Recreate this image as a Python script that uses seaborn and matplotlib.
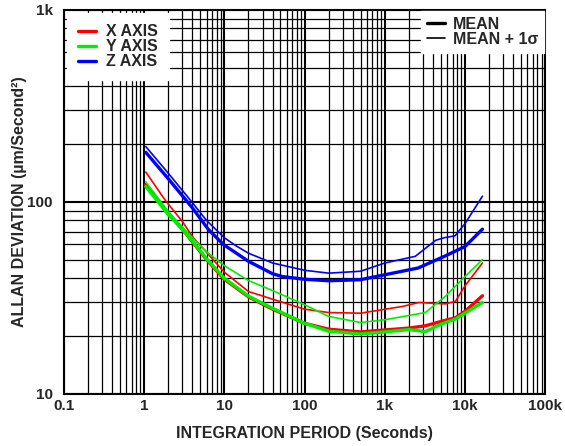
import matplotlib
matplotlib.use("Agg")
import numpy as np
import pandas as pd
import matplotlib.pyplot as plt
import seaborn as sns
from matplotlib.lines import Line2D
from matplotlib.ticker import FixedLocator, LogLocator, NullFormatter

# integration period (s) and Allan deviation (um/s^2)
x_sig_z = [1.05, 2, 4, 6, 10, 14, 20, 40, 100, 200, 500, 1000, 2400, 4300, 5500, 7500, 10000, 16500]
z_sig = [194, 141, 99, 80, 65, 59, 54, 48, 44, 42.5, 43.5, 48, 52, 63, 65, 66.5, 77, 107]

x_mean_z = [1.05, 2, 4, 6.3, 9.7, 20, 40, 53, 100, 200, 500, 1000, 2600, 5700, 10000, 16500]
z_mean = [181, 132, 93, 72, 60, 49, 42.2, 40.8, 39.5, 38.8, 39.3, 41.7, 45.2, 52.3, 58.5, 72]

x_sig_x = [1.05, 1.64, 1.9, 3, 4, 10, 20, 40, 100, 200, 500, 1650, 2660, 5700, 7600, 10000, 16500]
x_sig = [143, 109, 100, 79, 66, 43, 34.1, 31.1, 27.6, 26.5, 26.3, 28.5, 29.9, 29.4, 30.3, 36.5, 48]

x_sig_y = [1.05, 2, 3, 4, 6, 10, 20, 40, 100, 200, 500, 1000, 3200, 5700, 10000, 16500]
y_sig = [127, 89, 74, 65, 55, 46.5, 38.9, 34.5, 29.1, 25.3, 23.5, 24.3, 26.5, 32.2, 40.8, 50]

x_mean_x = [1.05, 2, 3, 4, 6, 10, 20, 30, 40, 100, 200, 500, 1000, 2000, 3200, 5000, 7600, 10000, 16500]
x_mean = [123, 87, 72, 62, 50, 39.5, 32, 29.3, 27.6, 23.3, 21.7, 21.0, 21.5, 22.0, 22.6, 23.8, 24.9, 26.9, 32.4]

x_mean_y = [1.05, 2, 3, 4, 6, 10, 20, 30, 40, 100, 200, 500, 1000, 2000, 3200, 5000, 7600, 10000, 16500]
y_mean = [120, 86, 72, 62.5, 50.5, 40, 32.3, 29.6, 27.9, 23.3, 21.2, 20.5, 21.0, 21.6, 21.1, 23.0, 24.5, 26.3, 29.9]

axis_names = ["X AXIS", "Y AXIS", "Z AXIS"]
x_ticks = [0.1, 1, 10, 100, 1000, 10000, 100000]
x_ticklabels = ["0.1", "1", "10", "100", "1k", "10k", "100k"]
y_ticks = [10, 100, 1000]
y_ticklabels = ["10", "100", "1k"]

sns.set_style("white")
plt.rcParams["font.family"] = ["Liberation Sans", "DejaVu Sans"]
plt.rcParams["font.weight"] = "bold"

RED, GREEN, BLUE = "#ff0000", "#00ee00", "#0000ff"
THICK, THIN = 2.4, 1.2

fig = plt.figure(figsize=(5.65, 4.46), dpi=100)
ax = fig.add_axes([0.113, 0.117, 0.852, 0.861])

series = [
    (x_sig_x, x_sig, RED, THIN),
    (x_mean_x, x_mean, RED, THICK),
    (x_sig_y, y_sig, GREEN, THIN),
    (x_mean_y, y_mean, GREEN, THICK),
    (x_sig_z, z_sig, BLUE, THIN),
    (x_mean_z, z_mean, BLUE, THICK),
]
for xs, ys, c, lw in series:
    df = pd.DataFrame({"t": xs, "adev": ys})
    sns.lineplot(data=df, x="t", y="adev", color=c, lw=lw, ax=ax, zorder=3)

ax.set_xscale("log")
ax.set_yscale("log")
ax.set_xlim(0.1, 100000)
ax.set_ylim(10, 1000)

ax.xaxis.set_major_locator(FixedLocator(x_ticks))
ax.set_xticklabels(x_ticklabels)
ax.yaxis.set_major_locator(FixedLocator(y_ticks))
ax.set_yticklabels(y_ticklabels)
ax.xaxis.set_minor_locator(LogLocator(base=10, subs=np.arange(2, 10)))
ax.yaxis.set_minor_locator(LogLocator(base=10, subs=np.arange(2, 10)))
ax.xaxis.set_minor_formatter(NullFormatter())
ax.yaxis.set_minor_formatter(NullFormatter())
ax.tick_params(which="both", length=0, labelsize=11)
ax.tick_params(axis="x", pad=4)
ax.tick_params(axis="y", pad=8)
for lab in ax.get_xticklabels() + ax.get_yticklabels():
    lab.set_fontweight("bold")

ax.grid(which="major", color="black", lw=1.5, zorder=1)
ax.grid(which="minor", color="black", lw=0.9, zorder=1)
ax.set_axisbelow(True)
for sp in ax.spines.values():
    sp.set_color("black")
    sp.set_linewidth(1.5)

ax.set_xlabel("INTEGRATION PERIOD (Seconds)", fontsize=11.5, fontweight="bold", labelpad=9)
ax.set_ylabel("ALLAN DEVIATION (µm/Second²)", fontsize=11.5, fontweight="bold", labelpad=0)

color_handles = [Line2D([], [], color=c, lw=THICK) for c in (RED, GREEN, BLUE)]
leg1 = ax.legend(color_handles, axis_names, loc="upper left", frameon=True,
                 fancybox=False, framealpha=1, edgecolor="white",
                 handlelength=1.1, handletextpad=0.65, borderpad=0.7,
                 labelspacing=0.0, borderaxespad=0.2,
                 prop={"weight": "bold", "size": 11.5})
leg1.set_zorder(5)
ax.add_artist(leg1)

style_handles = [Line2D([], [], color="black", lw=THICK), Line2D([], [], color="black", lw=THIN)]
leg2 = ax.legend(style_handles, ["MEAN", "MEAN + 1σ"], loc="upper right", frameon=True,
                 fancybox=False, framealpha=1, edgecolor="white",
                 handlelength=1.1, handletextpad=0.5, borderpad=0.4,
                 labelspacing=0.0, borderaxespad=0.05,
                 prop={"weight": "bold", "size": 11.5})
leg2.set_zorder(5)

fig.savefig("out.png", dpi=100)
